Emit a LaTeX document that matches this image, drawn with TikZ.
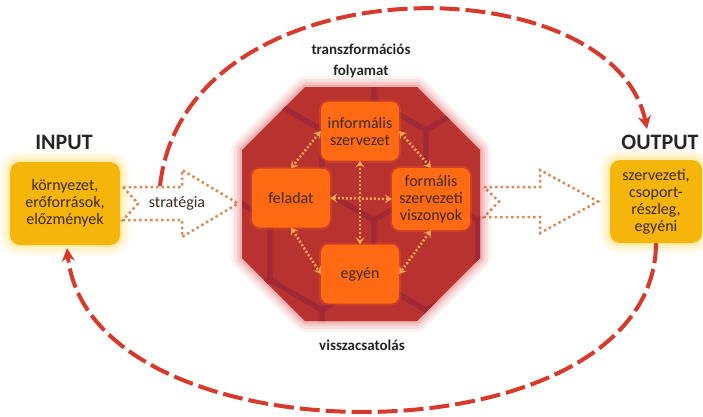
\documentclass[tikz,border=0pt]{standalone}
\usepackage{fontspec}
\setmainfont{Carlito}
\usepackage{tikz}
\usetikzlibrary{arrows.meta, positioning}

\definecolor{octred}{HTML}{B8322F}
\definecolor{octline}{HTML}{A02838}
\definecolor{glowred}{HTML}{E04848}
\definecolor{boxorange}{HTML}{FF6A12}
\definecolor{inyellow}{HTML}{F5B50A}
\definecolor{glowyellow}{HTML}{FFD54A}
\definecolor{arcred}{HTML}{D8392A}
\definecolor{dotorange}{HTML}{DC8A55}
\definecolor{linkorange}{HTML}{F7A64E}
\definecolor{txtdark}{HTML}{3A2A22}

\tikzset{
    glow/.style={
        preaction={draw=#1, line join=round, line width=22pt, draw opacity=0.07},
        preaction={draw=#1, line join=round, line width=16pt, draw opacity=0.1},
        preaction={draw=#1, line join=round, line width=10pt, draw opacity=0.14},
        preaction={draw=#1, line join=round, line width=5pt, draw opacity=0.2}
    },
    endbox/.style={
        fill=inyellow,
        rounded corners=10pt,
        minimum height=83pt,
        align=center,
        text=txtdark,
        font=\fontsize{16}{17}\selectfont,
        glow=glowyellow
    },
    task/.style={
        fill=boxorange,
        rounded corners=8pt,
        minimum width=78pt,
        minimum height=59pt,
        align=center,
        text=txtdark,
        font=\fontsize{16}{17}\selectfont,
        preaction={draw=boxorange, line width=4pt, draw opacity=0.25}
    },
    biglbl/.style={font=\bfseries\fontsize{22}{24}\selectfont, text=black!85},
    lbl/.style={font=\bfseries\fontsize{15}{21}\selectfont, align=center, text=black!85},
    feedarc/.style={arcred, line width=4pt, dash pattern=on 20pt off 6pt,
        -{Stealth[length=13pt, width=13pt]}},
    relarrow/.style={linkorange, line width=2.5pt, dash pattern=on 2pt off 2pt,
        {Stealth[length=7pt, width=9pt, inset=3pt]}-{Stealth[length=7pt, width=9pt, inset=3pt]}},
    flowarrow/.style={draw=dotorange, fill=white, line width=2.5pt,
        dash pattern=on 2.5pt off 3pt}
}

\begin{document}
\begin{tikzpicture}[x=1pt, y=-1pt]
    \useasboundingbox[fill=white] (0,0) rectangle (703,416);

    % input / output
    \node[endbox, minimum width=110pt] (inbox) at (65,203.5)
        {környezet,\\erőforrások,\\előzmények};
    \node[endbox, minimum width=92pt] (outbox) at (656,201.5)
        {szervezeti,\\csoport-\\részleg,\\egyéni};
    \node[biglbl] (inlbl) at (64,142) {INPUT};
    \node[biglbl] (outlbl) at (660,142) {OUTPUT};

    % feedback loops
    \coordinate (fbstart) at (160,186);
    \coordinate (fbend) at (647,129);
    \draw[feedarc] (fbstart) .. controls (185,-40) and (613,-38) .. (fbend);
    \draw[feedarc] (outbox.south) .. controls (655,466) and (90,466) .. ([xshift=2pt, yshift=-3pt]inbox.south);

    % hollow flow arrows
    \draw[flowarrow] (123,187) -- (182,187) -- (182,170) -- (238,203.5)
        -- (182,237) -- (182,220) -- (123,220) -- (138,203.5) -- cycle;
    \draw[flowarrow] (484,187) -- (540,187) -- (540,170) -- (598,201.5)
        -- (540,233) -- (540,217) -- (484,217) -- (499,201.5) -- cycle;
    \node[font=\fontsize{16}{17}\selectfont, text=txtdark] (strat) at (177,203) {stratégia};

    % octagon
    \coordinate (o1) at (305,87);
    \coordinate (o2) at (417,87);
    \coordinate (o3) at (480,150);
    \coordinate (o4) at (480,258);
    \coordinate (o5) at (417,321);
    \coordinate (o6) at (305,321);
    \coordinate (o7) at (242,258);
    \coordinate (o8) at (242,150);
    \fill[octred, glow=glowred] (o1) -- (o2) -- (o3) -- (o4) -- (o5) -- (o6) -- (o7) -- (o8) -- cycle;
    \begin{scope}
        \clip (o1) -- (o2) -- (o3) -- (o4) -- (o5) -- (o6) -- (o7) -- (o8) -- cycle;
        \foreach \i in {0,...,3}
            \foreach \j in {0,...,3} {
                \pgfmathsetmacro\cx{218+\i*104+mod(\j,2)*52}
                \pgfmathsetmacro\cy{70+\j*90}
                \draw[octline, line width=5pt, opacity=0.8] (\cx,\cy) +(90:60) -- +(150:60) -- +(210:60)
                    -- +(270:60) -- +(330:60) -- +(30:60) -- cycle;
            }
    \end{scope}

    \node[task] (inf) at (360,131) {informális\\szervezet};
    \node[task] (fel) at (291,198) {feladat};
    \node[task, minimum height=62pt] (form) at (431,199) {formális\\szervezeti\\viszonyok};
    \node[task] (egy) at (360,274) {egyén};

    \draw[relarrow] (inf.west) -- (fel.north);
    \draw[relarrow] (inf.east) -- (form.north);
    \draw[relarrow] (fel.south) -- (egy.west);
    \draw[relarrow] (form.south) -- (egy.east);
    \draw[relarrow] (inf.south) -- (egy.north);
    \draw[relarrow] (fel.east) -- (form.west);

    \node[lbl] (trf) at (361,61) {transzformációs\\folyamat};
    \node[lbl] (vissza) at (362,345) {visszacsatolás};
\end{tikzpicture}
\end{document}
